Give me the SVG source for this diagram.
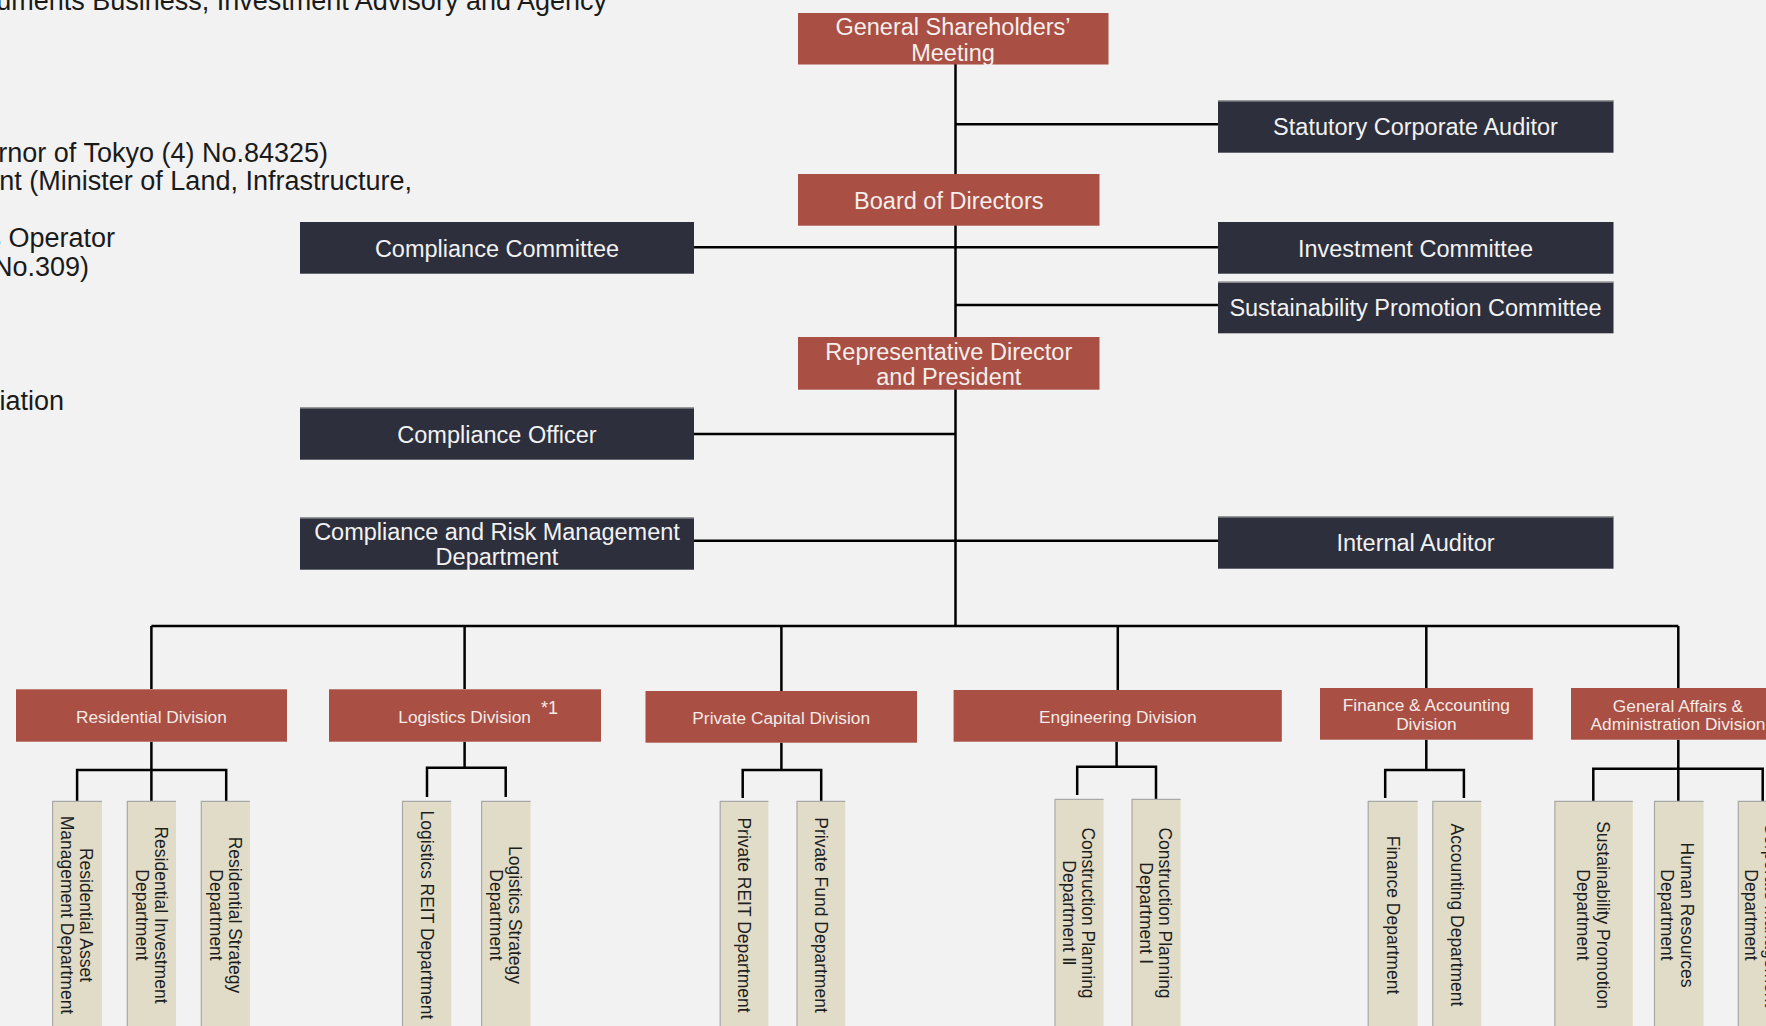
<svg xmlns="http://www.w3.org/2000/svg" width="1766" height="1026" viewBox="0 0 1766 1026">
<style>
.bg{fill:#F2F2F2}
.red{fill:#A94F43}
.dark{fill:#2D2F3C}
.dept{fill:#E1DCC8}
.edge{fill:none;stroke:#A8A8A8;stroke-width:1.2}
.t{font-family:"Liberation Sans",Arial,sans-serif;text-anchor:middle}
.tl{font-size:23.5px;fill:#F4EEEC}
.td{font-size:23.5px;fill:#F2F2F2}
.tdiv{font-size:17.3px;fill:#F4EAE7}
.tdep{font-size:17.5px;fill:#1E1E1E}
.info{font-family:"Liberation Sans",Arial,sans-serif;font-size:27px;fill:#1A1A1A;text-anchor:end}
.conn{fill:none;stroke:#000;stroke-width:2.5}
</style>
<rect class="bg" x="0" y="0" width="1766" height="1026"/>

<g id="info-text">
<text class="info" x="607" y="10">uments Business, Investment Advisory and Agency</text>
<text class="info" x="328" y="161.5">rnor of Tokyo (4) No.84325)</text>
<text class="info" x="412" y="190">nt (Minister of Land, Infrastructure,</text>
<text class="info" x="115" y="247">s Operator</text>
<text class="info" x="89" y="276">No.309)</text>
<text class="info" x="64" y="410">iation</text>
</g>

<g id="connectors">
<path class="conn" d="M955.5,64 V626"/>
<path class="conn" d="M955.5,124.3 H1218"/>
<path class="conn" d="M694,247.3 H1218"/>
<path class="conn" d="M955.5,305 H1218"/>
<path class="conn" d="M694,434 H955.5"/>
<path class="conn" d="M694,540.7 H1218"/>
<path class="conn" d="M151.4,626 H1678.3"/>
<path class="conn" d="M151.4,626 V689 M464.6,626 V689 M781.4,626 V691 M1117.8,626 V690 M1426.3,626 V688 M1678.3,626 V688"/>
<path class="conn" d="M151.4,741.7 V801 M77.1,801 V770 H226.2 V801"/>
<path class="conn" d="M464.6,741.7 V767.7 M427,797 V767.7 H505.7 V797"/>
<path class="conn" d="M781.4,742.7 V770 M742.7,798 V770 H821.2 V801"/>
<path class="conn" d="M1116.6,741.7 V766.7 M1077.2,795 V766.7 H1156 V799"/>
<path class="conn" d="M1426.3,739.7 V770 M1385.2,798 V770 H1463.9 V798"/>
<path class="conn" d="M1678.3,739.7 V801 M1593.3,801 V768.7 H1762.7 V801"/>
</g>

<g id="general-shareholders-meeting">
<rect class="red" x="798" y="13" width="310.5" height="51.5"/>
<text class="t tl" x="953" y="35">General Shareholders’</text>
<text class="t tl" x="953" y="60.5">Meeting</text>
</g>
<g id="statutory-corporate-auditor">
<rect class="dark" x="1218" y="100.3" width="395.5" height="52.4"/>
<path class="edge" d="M1218,100.8 H1613.5"/>
<text class="t td" x="1415.5" y="135">Statutory Corporate Auditor</text>
</g>
<g id="board-of-directors">
<rect class="red" x="798" y="174" width="301.5" height="51.7"/>
<text class="t tl" x="948.8" y="209">Board of Directors</text>
</g>
<g id="compliance-committee">
<rect class="dark" x="300" y="222" width="394" height="51.7"/>
<text class="t td" x="497" y="256.7">Compliance Committee</text>
</g>
<g id="investment-committee">
<rect class="dark" x="1218" y="222" width="395.5" height="51.7"/>
<text class="t td" x="1415.5" y="257">Investment Committee</text>
</g>
<g id="sustainability-promotion-committee">
<rect class="dark" x="1218" y="281.7" width="395.5" height="51.6"/>
<path class="edge" d="M1218,282.2 H1613.5"/>
<text class="t td" x="1415.5" y="316">Sustainability Promotion Committee</text>
</g>
<g id="representative-director">
<rect class="red" x="798" y="337" width="301.5" height="52.7"/>
<text class="t tl" x="948.8" y="360">Representative Director</text>
<text class="t tl" x="948.8" y="384.5">and President</text>
</g>
<g id="compliance-officer">
<rect class="dark" x="300" y="407.3" width="394" height="52.4"/>
<path class="edge" d="M300,407.8 H694"/>
<text class="t td" x="497" y="442.5">Compliance Officer</text>
</g>
<g id="compliance-risk-management">
<rect class="dark" x="300" y="517.3" width="394" height="52.4"/>
<path class="edge" d="M300,517.8 H694"/>
<text class="t td" x="497" y="540">Compliance and Risk Management</text>
<text class="t td" x="497" y="565">Department</text>
</g>
<g id="internal-auditor">
<rect class="dark" x="1218" y="516.3" width="395.5" height="52.4"/>
<path class="edge" d="M1218,516.8 H1613.5"/>
<text class="t td" x="1415.5" y="550.5">Internal Auditor</text>
</g>

<g id="residential-division">
<rect class="red" x="16" y="689.3" width="271" height="52.4"/>
<text class="t tdiv" x="151.4" y="722.7">Residential Division</text>
</g>
<g id="logistics-division">
<rect class="red" x="329" y="689.3" width="272" height="52.4"/>
<text class="t tdiv" x="464.6" y="722.7">Logistics Division</text>
<text class="tdiv" x="541" y="714" style="font-family:'Liberation Sans',Arial,sans-serif;font-size:18px">*1</text>
</g>
<g id="private-capital-division">
<rect class="red" x="645.5" y="691" width="271.5" height="51.7"/>
<text class="t tdiv" x="781.2" y="724">Private Capital Division</text>
</g>
<g id="engineering-division">
<rect class="red" x="953.6" y="690" width="328.2" height="51.7"/>
<text class="t tdiv" x="1117.8" y="723.3">Engineering Division</text>
</g>
<g id="finance-accounting-division">
<rect class="red" x="1320" y="688" width="212.8" height="51.7"/>
<text class="t tdiv" x="1426.4" y="711">Finance &amp; Accounting</text>
<text class="t tdiv" x="1426.4" y="730">Division</text>
</g>
<g id="general-affairs-division">
<rect class="red" x="1571" y="688" width="214" height="51.7"/>
<text class="t tdiv" x="1678" y="711.5">General Affairs &amp;</text>
<text class="t tdiv" x="1678" y="730">Administration Division</text>
</g>

<g id="dept-residential-asset">
<rect class="dept" x="52.6" y="801.3" width="49.4" height="230"/>
<path class="edge" d="M52.6,1031 V801.3 H102"/>
<text class="t tdep" transform="translate(77.3,915) rotate(90)"><tspan x="0" y="-3.2">Residential Asset</tspan><tspan x="0" y="15.8">Management Department</tspan></text>
</g>
<g id="dept-residential-investment">
<rect class="dept" x="127.3" y="801.3" width="48.7" height="230"/>
<path class="edge" d="M127.3,1031 V801.3 H176"/>
<text class="t tdep" transform="translate(151.6,915) rotate(90)"><tspan x="0" y="-3.2">Residential Investment</tspan><tspan x="0" y="15.8">Department</tspan></text>
</g>
<g id="dept-residential-strategy">
<rect class="dept" x="201.3" y="801.3" width="48.6" height="230"/>
<path class="edge" d="M201.3,1031 V801.3 H249.9"/>
<text class="t tdep" transform="translate(225.6,915) rotate(90)"><tspan x="0" y="-3.2">Residential Strategy</tspan><tspan x="0" y="15.8">Department</tspan></text>
</g>
<g id="dept-logistics-reit">
<rect class="dept" x="402.5" y="801.3" width="48.7" height="230"/>
<path class="edge" d="M402.5,1031 V801.3 H451.2"/>
<text class="t tdep" transform="translate(426.9,915) rotate(90)" y="6.3">Logistics REIT Department</text>
</g>
<g id="dept-logistics-strategy">
<rect class="dept" x="481.6" y="801.3" width="49" height="230"/>
<path class="edge" d="M481.6,1031 V801.3 H530.6"/>
<text class="t tdep" transform="translate(506.1,915) rotate(90)"><tspan x="0" y="-3.2">Logistics Strategy</tspan><tspan x="0" y="15.8">Department</tspan></text>
</g>
<g id="dept-private-reit">
<rect class="dept" x="720.2" y="801.3" width="48.2" height="230"/>
<path class="edge" d="M720.2,1031 V801.3 H768.4"/>
<text class="t tdep" transform="translate(744.3,915) rotate(90)" y="6.3">Private REIT Department</text>
</g>
<g id="dept-private-fund">
<rect class="dept" x="797" y="801.3" width="48.3" height="230"/>
<path class="edge" d="M797,1031 V801.3 H845.3"/>
<text class="t tdep" transform="translate(821.2,915) rotate(90)" y="6.3">Private Fund Department</text>
</g>
<g id="dept-construction-2">
<rect class="dept" x="1055" y="799.3" width="48.6" height="232"/>
<path class="edge" d="M1055,1031 V799.3 H1103.6"/>
<text class="t tdep" transform="translate(1079.3,913) rotate(90)"><tspan x="0" y="-3.2">Construction Planning</tspan><tspan x="0" y="15.8">Department Ⅱ</tspan></text>
</g>
<g id="dept-construction-1">
<rect class="dept" x="1132" y="799.3" width="48.6" height="232"/>
<path class="edge" d="M1132,1031 V799.3 H1180.6"/>
<text class="t tdep" transform="translate(1156.3,913) rotate(90)"><tspan x="0" y="-3.2">Construction Planning</tspan><tspan x="0" y="15.8">Department Ⅰ</tspan></text>
</g>
<g id="dept-finance">
<rect class="dept" x="1368.2" y="801.3" width="49.5" height="230"/>
<path class="edge" d="M1368.2,1031 V801.3 H1417.7"/>
<text class="t tdep" transform="translate(1393,915) rotate(90)" y="6.3">Finance Department</text>
</g>
<g id="dept-accounting">
<rect class="dept" x="1432.8" y="801.3" width="48.4" height="230"/>
<path class="edge" d="M1432.8,1031 V801.3 H1481.2"/>
<text class="t tdep" transform="translate(1457,915) rotate(90)" y="6.3">Accounting Department</text>
</g>
<g id="dept-sustainability">
<rect class="dept" x="1554.9" y="801.3" width="77.9" height="230"/>
<path class="edge" d="M1554.9,1031 V801.3 H1632.8"/>
<text class="t tdep" transform="translate(1593,915) rotate(90)"><tspan x="0" y="-3.7">Sustainability Promotion</tspan><tspan x="0" y="16.3">Department</tspan></text>
</g>
<g id="dept-human-resources">
<rect class="dept" x="1654.5" y="801.3" width="49.1" height="230"/>
<path class="edge" d="M1654.5,1031 V801.3 H1703.6"/>
<text class="t tdep" transform="translate(1677.5,915) rotate(90)"><tspan x="0" y="-3.7">Human Resources</tspan><tspan x="0" y="16.3">Department</tspan></text>
</g>
<g id="dept-corporate">
<rect class="dept" x="1738.3" y="801.3" width="49" height="230"/>
<path class="edge" d="M1738.3,1031 V801.3 H1787"/>
<text class="t tdep" transform="translate(1761.6,915) rotate(90)"><tspan x="0" y="-3.7">Corporate Management</tspan><tspan x="0" y="16.3">Department</tspan></text>
</g>
</svg>
